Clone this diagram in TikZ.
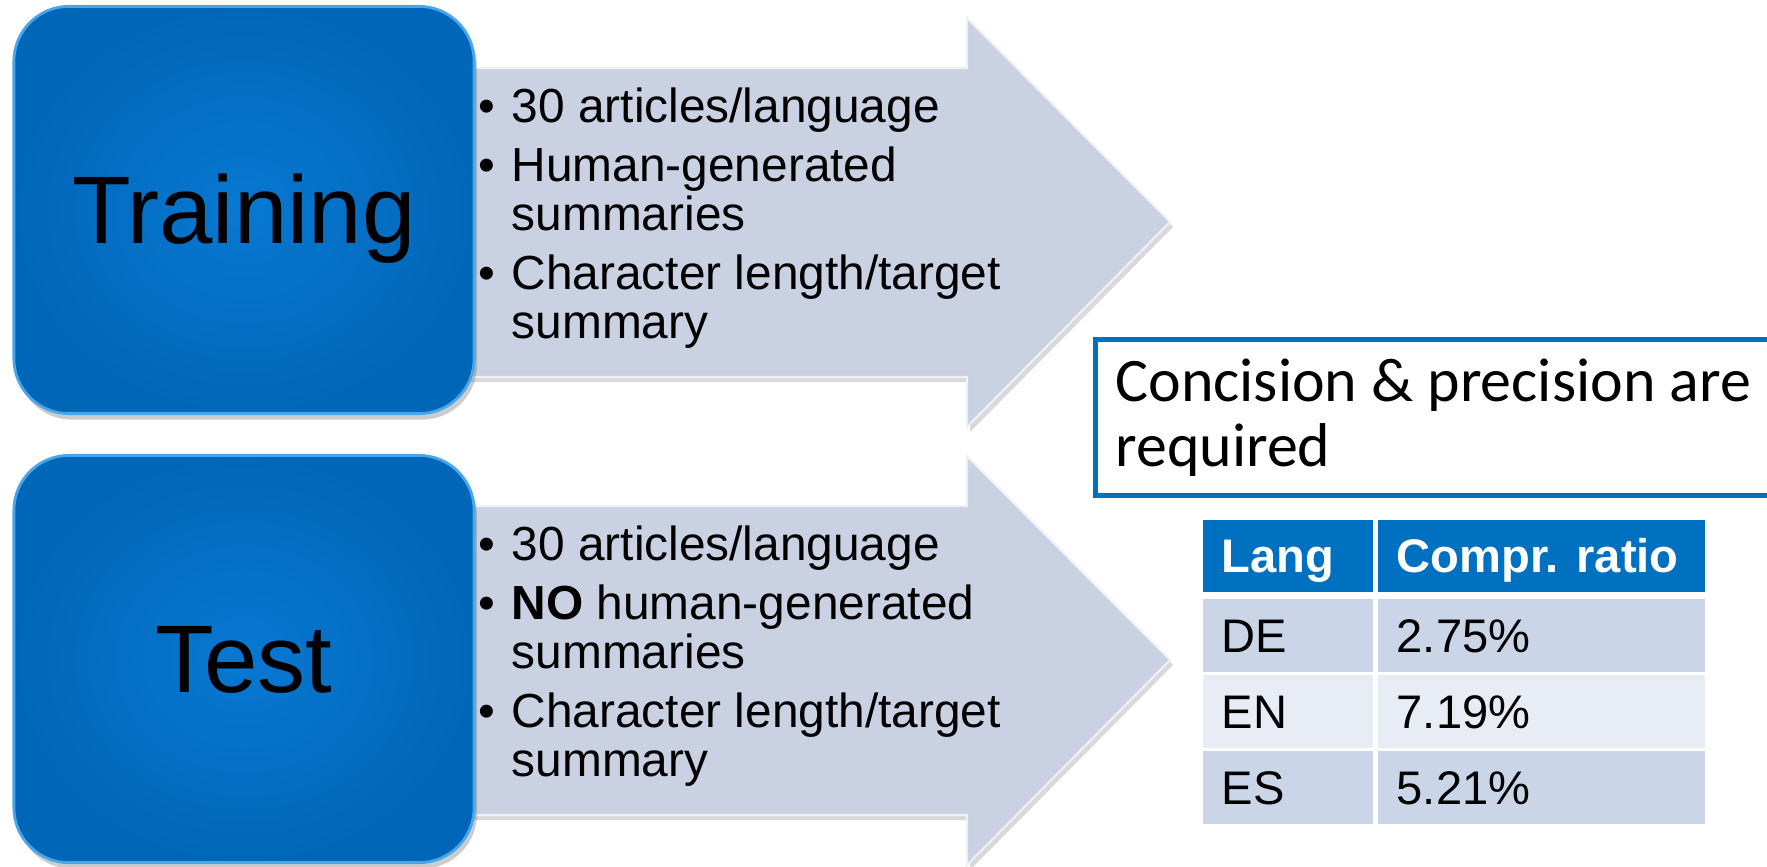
\documentclass[tikz,border=0pt]{standalone}
\usepackage{fontspec}
\setmainfont{Liberation Sans}
\newfontfamily\calib{Carlito}
\usetikzlibrary{shadows}
\definecolor{stagemid}{HTML}{0878D2}
\definecolor{stageedge}{HTML}{0067B8}
\definecolor{stagerim}{HTML}{4AA6EA}
\definecolor{arrowgray}{HTML}{C9D1E3}
\definecolor{headblue}{HTML}{0070C0}
\definecolor{rowdark}{HTML}{CBD5E8}
\definecolor{rowlight}{HTML}{E8ECF5}
\newcommand{\bitem}[1]{\par\noindent\hangindent=0.33cm\hangafter=1%
  \makebox[0.33cm][l]{\textbullet}#1\par\vspace{0.1cm}}

\begin{document}
\begin{tikzpicture}[x=0.01cm,y=-0.01cm,
  stage/.style={rectangle,rounded corners=0.55cm,minimum width=4.6cm,minimum height=4.07cm,
    inner color=stagemid,outer color=stageedge,draw=stagerim,line width=0.8pt,
    font=\fontsize{27.3}{30}\selectfont,text height=0.75cm,text depth=0.09cm,
    drop shadow={opacity=0.4,shadow xshift=0.03cm,shadow yshift=-0.06cm}},
  bigarrow/.style={fill=arrowgray,draw=white!70!arrowgray,line width=0.6pt,
    drop shadow={opacity=0.3,shadow xshift=0.03cm,shadow yshift=-0.05cm}},
  points/.style={anchor=north west,inner sep=0pt,text width=6cm,align=flush left,
    font=\fontsize{13.6}{13.94}\selectfont},
  cell/.style={anchor=north west,inner xsep=0.19cm,inner ysep=0pt,minimum height=0.73cm,
    text height=0.34cm,text depth=0cm,align=flush left,font=\fontsize{13.4}{14}\selectfont}]
\useasboundingbox (0,0) rectangle (1767,866);
\foreach \dy in {0,438}
  \path[bigarrow,shift={(0,\dy)}] (400,68) -- (967,68) -- (967,18) -- (1170,222)
    -- (967,427) -- (967,377) -- (400,377) -- cycle;
\node[stage] (train) at (244,210) {Training};
\node[stage] (test) at (244,659) {Test};
\node[points] (trainpts) at (478,73) {\bitem{30 articles/language}%
  \bitem{Human-generated\newline summaries}%
  \bitem{Character length/target\newline summary}};
\node[points] (testpts) at (478,511) {\bitem{30 articles/language}%
  \bitem{\textbf{NO} human-generated\newline summaries}%
  \bitem{Character length/target\newline summary}};
\node[anchor=north west,draw=headblue,line width=1.4pt,fill=white,minimum height=1.56cm,
  text width=6.6cm,inner xsep=0.2cm,align=flush left,font=\calib\fontsize{17.6}{18.5}\selectfont]
  (note) at (1093,337) {Concision \& precision are\\required};
\node[cell,fill=headblue,text=white,text width=1.32cm,minimum height=0.72cm] (hlang)
  at (1202,519) {\textbf{Lang}};
\node[cell,fill=headblue,text=white,text width=2.89cm,minimum height=0.72cm] (hratio)
  at (1377,519) {\textbf{Compr. ratio}};
\foreach \lang/\ratio/\ry/\rowclr in {DE/2.75\%/598/rowdark,EN/7.19\%/674/rowlight,ES/5.21\%/750/rowdark}{
  \node[cell,fill=\rowclr,text width=1.32cm] (lang-\lang) at (1202,\ry) {\lang};
  \node[cell,fill=\rowclr,text width=2.89cm] (ratio-\lang) at (1377,\ry) {\ratio};
}
\end{tikzpicture}
\end{document}
